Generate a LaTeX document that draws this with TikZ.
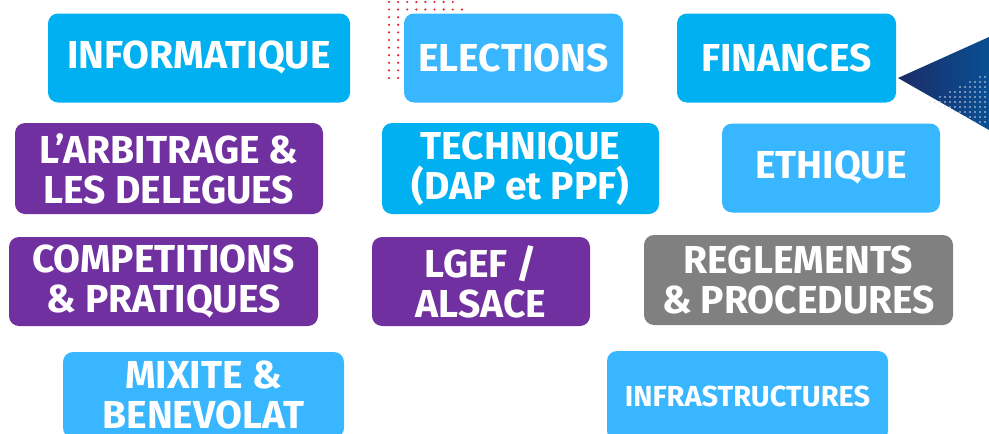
\documentclass[tikz,border=0pt]{standalone}
\usepackage{fontspec}
\setmainfont{Fira Sans}
\usetikzlibrary{shapes.misc}

\definecolor{ciel}{HTML}{00B0F0}
\definecolor{azur}{HTML}{38B6FF}
\definecolor{pourpre}{HTML}{7030A0}
\definecolor{gris}{HTML}{808080}
\definecolor{marine}{HTML}{1B2C66}
\definecolor{marineclair}{HTML}{0A4F93}
\definecolor{pointrouge}{HTML}{E5212B}

\tikzset{
  pole/.style={rounded corners=10pt, text=white, align=center, inner sep=0pt,
    font=\fontsize{39}{40}\selectfont\bfseries},
  petit/.style={font=\fontsize{29}{32}\selectfont\bfseries}
}

\begin{document}
\begin{tikzpicture}[x=1pt,y=-1pt]
	\useasboundingbox (0,0) rectangle (989,434);
	\clip (0,0) rectangle (989,434);
	% points rouges
	\foreach \i in {0,...,7} \fill[pointrouge] (389+9.1*\i,2) circle (1.2);
	\foreach \i in {0,...,8} \fill[pointrouge] (389+9.1*\i,9.5) circle (1.2);
	\foreach \j in {2,...,10} {
		\fill[pointrouge] (389,2+7.6*\j) circle (1.2);
		\fill[pointrouge] (398.1,2+7.6*\j) circle (1.2);
	}
	% triangle bleu
	\shade[left color=marine, right color=marineclair] (898,78) -- (989,37) -- (989,130) -- cycle;
	\begin{scope}
		\clip (927,102) -- (989,72) -- (989,127) -- cycle;
		\foreach \i in {0,...,12}
			\foreach \j in {0,...,12}
				\fill[white!85!marine] (930+5*\i,72+5*\j) circle (0.8);
	\end{scope}
	% poles
	\node[pole, fill=ciel, minimum width=302pt, minimum height=89pt] (informatique) at (199,58) {INFORMATIQUE};
	\node[pole, fill=azur, minimum width=219pt, minimum height=89pt] (elections) at (513.5,58) {ELECTIONS};
	\node[pole, fill=ciel, minimum width=219pt, minimum height=89pt] (finances) at (786.5,58) {FINANCES};
	\node[pole, fill=pourpre, minimum width=308pt, minimum height=91pt] (arbitrage) at (169,168.5) {L’ARBITRAGE \&\\LES DELEGUES};
	\node[pole, fill=ciel, minimum width=277pt, minimum height=91pt] (technique) at (520.5,168.5) {TECHNIQUE\\(DAP et PPF)};
	\node[pole, fill=azur, minimum width=218pt, minimum height=89pt] (ethique) at (831,168) {ETHIQUE};
	\node[pole, fill=pourpre, minimum width=309pt, minimum height=89pt] (competitions) at (163.5,281.5) {COMPETITIONS\\\& PRATIQUES};
	\node[pole, fill=pourpre, minimum width=218pt, minimum height=89pt] (lgef) at (481,281.5) {LGEF /\\ALSACE};
	\node[pole, fill=gris, minimum width=309pt, minimum height=90pt] (reglements) at (798.5,280) {REGLEMENTS\\\& PROCEDURES};
	\node[pole, fill=azur, minimum width=281pt, minimum height=86pt] (mixite) at (203.5,395) {MIXITE \&\\BENEVOLAT};
	\node[pole, petit, fill=azur, minimum width=281pt, minimum height=90pt] (infrastructures) at (747.5,396) {INFRASTRUCTURES};
\end{tikzpicture}
\end{document}
